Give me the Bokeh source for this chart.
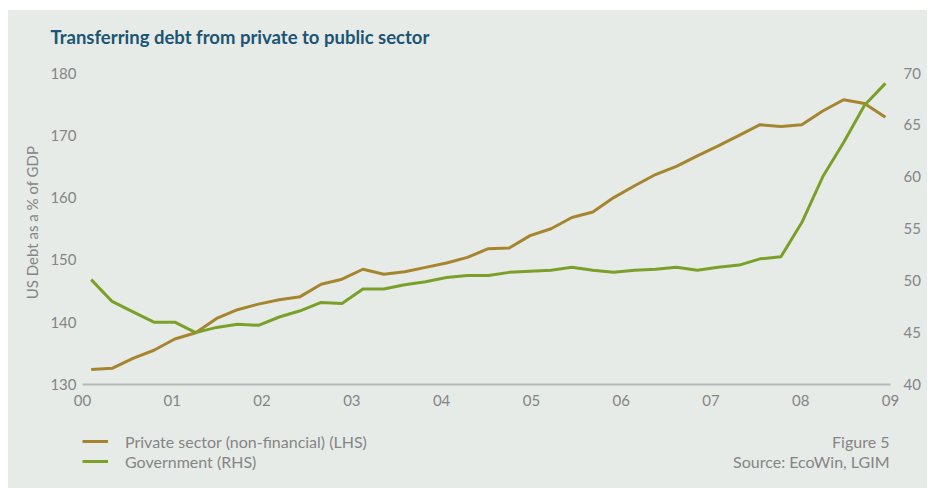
import numpy as np
from bokeh.plotting import figure
from bokeh.layouts import column
from bokeh.models import (Range1d, LinearAxis, FixedTicker, Legend, LegendItem, Label, Title)
from bokeh.embed import file_html
from bokeh.resources import INLINE

# ---- data ----
year_labels = ["00", "01", "02", "03", "04", "05", "06", "07", "08", "09"]
private_lhs = [132.4, 132.6, 134.2, 135.5, 137.3, 138.3, 140.6, 142.0, 142.9, 143.6,
               144.1, 146.1, 146.9, 148.5, 147.7, 148.1, 148.8, 149.5, 150.4, 151.8,
               151.9, 153.9, 155.0, 156.8, 157.7, 160.0, 161.9, 163.7, 165.0, 166.7,
               168.3, 170.0, 171.7, 171.4, 171.7, 173.9, 175.7, 175.1, 172.9]
government_rhs = [50.1, 48.0, 47.0, 46.0, 46.0, 45.0, 45.5, 45.8, 45.7, 46.5,
                  47.1, 47.9, 47.8, 49.2, 49.2, 49.6, 49.9, 50.3, 50.5, 50.5,
                  50.8, 50.9, 51.0, 51.3, 51.0, 50.8, 51.0, 51.1, 51.3, 51.0,
                  51.3, 51.5, 52.1, 52.3, 55.6, 60.0, 63.3, 66.9, 69.0]
left_ticks = [130, 140, 150, 160, 170, 180]
right_ticks = [40, 45, 50, 55, 60, 65, 70]
series_names = ["Private sector (non-financial) (LHS)", "Government (RHS)"]
# observation times in years since 2000
t = 0.097 + np.arange(len(private_lhs)) * 0.2328

BG = "#E7EBE8"
BROWN = "#A6852F"
GREEN = "#7AA02A"
GREY = "#858585"
FONT = "Lato"

# frame is a bit taller than the tick span (headroom above the top ticks)
FRAME_H = 324
TICK_SPAN = 311.5
lhs_top = left_ticks[0] + (left_ticks[-1] - left_ticks[0]) * FRAME_H / TICK_SPAN
rhs_top = right_ticks[0] + (right_ticks[-1] - right_ticks[0]) * FRAME_H / TICK_SPAN

# ---------------- main chart ----------------
p = figure(width=919, height=410, output_backend="svg", toolbar_location=None,
           x_range=Range1d(0, 9), y_range=Range1d(left_ticks[0], lhs_top),
           min_border_left=74, min_border_right=37, min_border_top=50, min_border_bottom=36,
           background_fill_color=None, border_fill_color=None, outline_line_color=None)
p.extra_y_ranges = {"rhs": Range1d(right_ticks[0], rhs_top)}
p.grid.visible = False

p.title = Title(text="Transferring debt from private to public sector", align="left",
                offset=-32, standoff=26, text_font=FONT, text_font_size="18.5px",
                text_font_style="bold", text_color="#1B5573")

p.line(t, private_lhs, line_color=BROWN, line_width=3)
p.line(t, government_rhs, line_color=GREEN, line_width=3, y_range_name="rhs")

xa = p.xaxis[0]
xa.ticker = FixedTicker(ticks=list(range(10)))
xa.major_label_overrides = {i: s for i, s in enumerate(year_labels)}
xa.axis_line_color = "#B3B7B7"
xa.axis_line_width = 2
xa.major_label_standoff = 10

ya = p.yaxis[0]
ya.ticker = FixedTicker(ticks=left_ticks)
ya.axis_line_color = None
ya.major_label_standoff = 6
ya.axis_label = "US Debt as a % of GDP"
ya.axis_label_standoff = 6

ra = LinearAxis(y_range_name="rhs", ticker=FixedTicker(ticks=right_ticks))
ra.axis_line_color = None
ra.major_label_standoff = 13
p.add_layout(ra, "right")

for ax in [xa, ya, ra]:
    ax.major_tick_line_color = None
    ax.minor_tick_line_color = None
    ax.major_tick_out = 0
    ax.major_tick_in = 0
    ax.minor_tick_out = 0
    ax.minor_tick_in = 0
    ax.major_label_text_font = FONT
    ax.major_label_text_font_size = "15px"
    ax.major_label_text_color = GREY
    ax.axis_label_text_font = FONT
    ax.axis_label_text_font_size = "15px"
    ax.axis_label_text_font_style = "normal"
    ax.axis_label_text_color = GREY

# ---------------- legend / source strip ----------------
q = figure(width=919, height=68, output_backend="svg", toolbar_location=None,
           x_range=Range1d(0, 1), y_range=Range1d(0, 1),
           x_axis_type=None, y_axis_type=None,
           min_border=0, min_border_left=0, min_border_right=0, min_border_top=0, min_border_bottom=0,
           background_fill_color=None, border_fill_color=None, outline_line_color=None)
# legend-only renderers (no visible data)
lp = q.line(x=[np.nan, np.nan], y=[np.nan, np.nan], line_color=BROWN, line_width=3)
lg = q.line(x=[np.nan, np.nan], y=[np.nan, np.nan], line_color=GREEN, line_width=3)
legend = Legend(items=[LegendItem(label=series_names[0], renderers=[lp]),
                       LegendItem(label=series_names[1], renderers=[lg])],
                location=(0, 17), orientation="vertical",
                glyph_width=26, glyph_height=20, label_height=20, spacing=0,
                padding=0, margin=0, label_standoff=17,
                label_text_font=FONT, label_text_font_size="16px", label_text_color=GREY,
                background_fill_alpha=0, border_line_alpha=0)
q.add_layout(legend, "center")
q.add_layout(Label(x=807, y=47, x_units="screen", y_units="screen", text="Figure 5",
                   text_font=FONT, text_font_size="16px", text_color=GREY,
                   text_align="right", text_baseline="middle"))
q.add_layout(Label(x=807, y=27, x_units="screen", y_units="screen", text="Source: EcoWin, LGIM",
                   text_font=FONT, text_font_size="16px", text_color=GREY,
                   text_align="right", text_baseline="middle"))

layout = column(p, q, spacing=0)
layout.margin = (10, 14, 0, 8)
layout.styles = {"background-color": BG}

open("out.html", "w").write(file_html(layout, INLINE))
